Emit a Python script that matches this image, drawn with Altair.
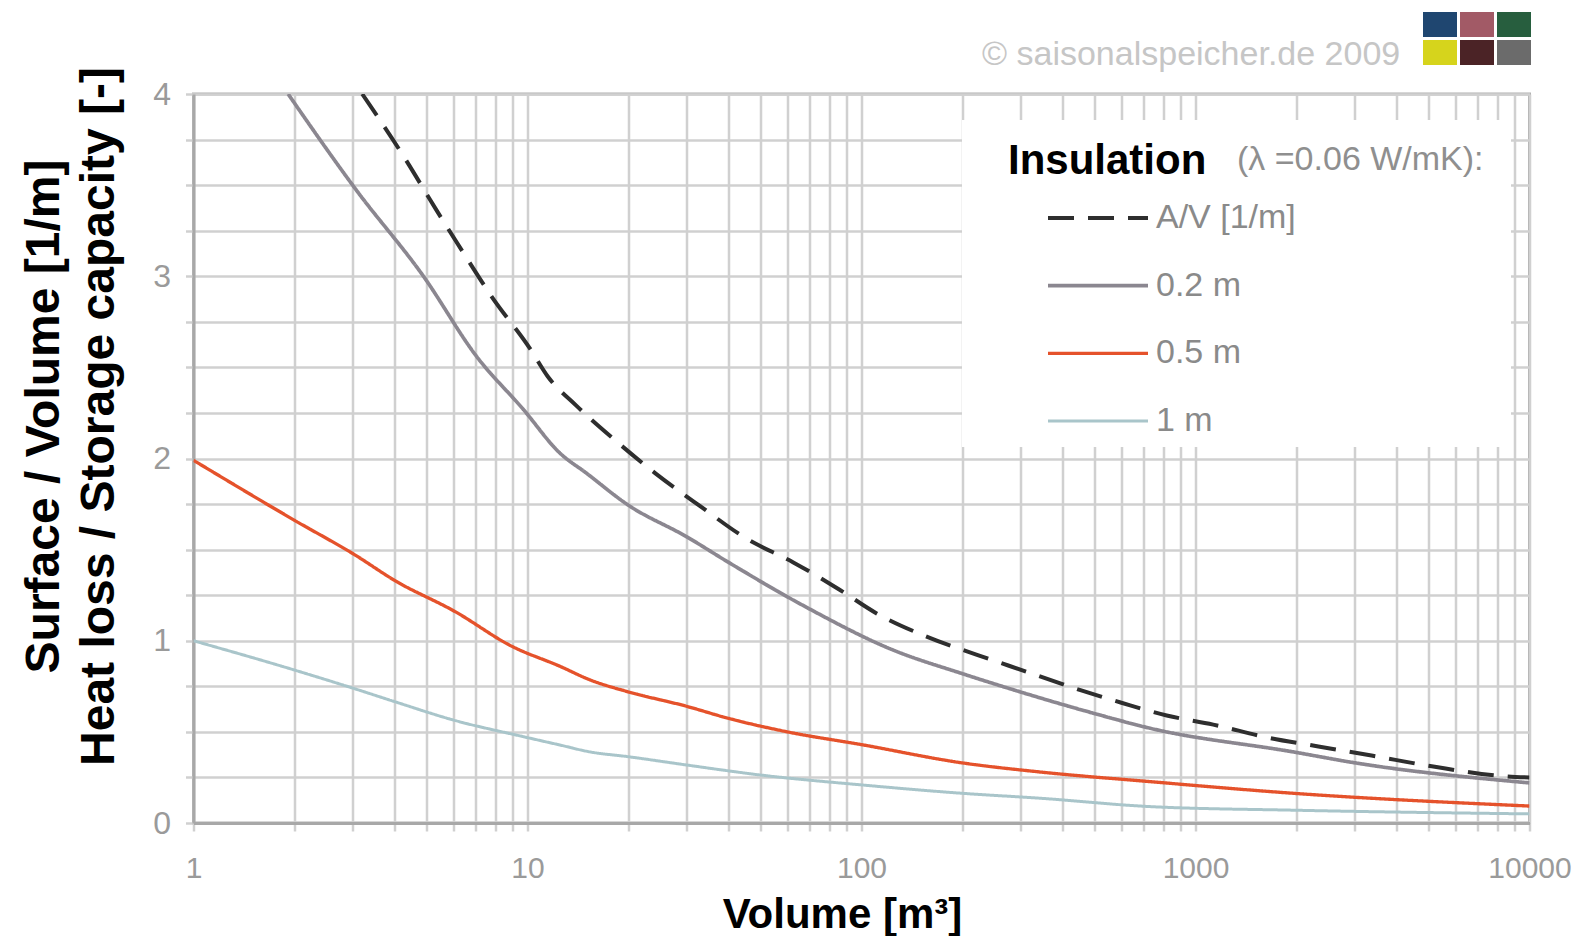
import altair as alt
import pandas as pd

# ---------------- data ----------------
series_names = ["A/V [1/m]", "0.2 m", "0.5 m", "1 m"]
series_colors = ["#2e2e2e", "#8b8790", "#e5522b", "#a9c5ca"]
series_dash = [[26, 14], [1, 0], [1, 0], [1, 0]]
series_width = [4, 3, 4, 3]

av_volume = [3.2, 4.25, 5.35, 6.42, 7.8, 10.2, 11.5, 14.0, 18.3, 24.1, 32.8, 45.3,
             62.5, 86, 111, 158, 224, 312, 450, 600, 820, 1130, 1634, 2333, 3365,
             5150, 7980, 10000]
av_value = [4.0, 3.66, 3.36, 3.13, 2.89, 2.6, 2.45, 2.29, 2.10, 1.92, 1.74, 1.56,
            1.43, 1.28, 1.15, 1.02, 0.92, 0.83, 0.73, 0.66, 0.59, 0.54, 0.47, 0.42,
            0.37, 0.31, 0.26, 0.25]

ins02_volume = [1.92, 3.08, 4.88, 7.04, 9.71, 12.5, 15.0, 20, 30, 40, 69, 124, 200,
                298, 500, 731, 1963, 3005, 10000]
ins02_value = [4.0, 3.47, 3.0, 2.56, 2.27, 2.03, 1.92, 1.745, 1.57, 1.43, 1.18, 0.95,
               0.82, 0.72, 0.60, 0.52, 0.39, 0.33, 0.22]

ins05_volume = [1, 2.01, 3.05, 4.01, 6.07, 8.97, 12.5, 15.4, 20, 30, 40, 60, 100, 200,
                342, 731, 1963, 10000]
ins05_value = [1.99, 1.66, 1.47, 1.33, 1.16, 0.97, 0.86, 0.785, 0.72, 0.64, 0.574,
               0.50, 0.43, 0.33, 0.28, 0.227, 0.163, 0.093]

ins1_volume = [1, 2, 3, 4, 6, 9.7, 12.5, 15.4, 20, 30, 50, 100, 200, 342, 731, 2000,
               10000]
ins1_value = [1.0, 0.84, 0.74, 0.666, 0.565, 0.474, 0.428, 0.39, 0.364, 0.318, 0.263,
              0.209, 0.163, 0.136, 0.09, 0.07, 0.05]

x_grid_values = [1, 2, 3, 4, 5, 6, 7, 8, 9,
                 10, 20, 30, 40, 50, 60, 70, 80, 90,
                 100, 200, 300, 400, 500, 600, 700, 800, 900,
                 1000, 2000, 3000, 4000, 5000, 6000, 7000, 8000, 9000,
                 10000]
x_label_values = [1, 10, 100, 1000, 10000]
y_grid_values = [0, 0.25, 0.5, 0.75, 1, 1.25, 1.5, 1.75, 2, 2.25, 2.5, 2.75,
                 3, 3.25, 3.5, 3.75, 4]

legend_title = "Insulation"
legend_note = "(λ =0.06 W/mK):"
copyright_text = "© saisonalspeicher.de 2009"
logo_colors = ["#1f4670", "#a25a66", "#275e3e", "#d6d41c", "#4b2326", "#6b6b6b"]

x_title = "Volume [m³]"
y_title = ["Surface / Volume [1/m]", "Heat loss / Storage capacity [-]"]

# ---------------- build table ----------------
rows = []
for name, vols, vals in [(series_names[0], av_volume, av_value),
                         (series_names[1], ins02_volume, ins02_value),
                         (series_names[2], ins05_volume, ins05_value),
                         (series_names[3], ins1_volume, ins1_value)]:
    for v, y in zip(vols, vals):
        rows.append({"series": name, "volume": v, "ratio": y})
df = pd.DataFrame(rows)

FONT = "Liberation Sans"
W, H = 1336, 729

label_expr_x = ("indexof([" + ",".join(str(v) for v in x_label_values) +
                "], datum.value) >= 0 ? format(datum.value, 'd') : ''")

x_enc = alt.X(
    "volume:Q",
    scale=alt.Scale(type="log", domain=[1, 10000], nice=False),
    axis=alt.Axis(
        values=x_grid_values, labelExpr=label_expr_x,
        grid=True, gridColor="#d0d0d0", gridWidth=2.5,
        ticks=True, tickColor="#d0d0d0", tickWidth=2.5, tickSize=8,
        domainColor="#a8a8a8", domainWidth=3,
        labelFont=FONT, labelFontSize=30, labelColor="#9a9a9a",
        labelPadding=22, labelFlush=False, labelOverlap=False,
        title=x_title, titleFont=FONT, titleFontSize=42, titleFontWeight="bold",
        titleColor="black", titleX=648.5, titleY=104, titleAlign="center",
        titleBaseline="alphabetic",
    ),
)
y_enc = alt.Y(
    "ratio:Q",
    scale=alt.Scale(domain=[0, 4], nice=False, zero=True),
    axis=alt.Axis(
        values=y_grid_values,
        labelExpr="datum.value % 1 == 0 ? format(datum.value, 'd') : ''",
        grid=True, gridColor="#d0d0d0", gridWidth=2.5,
        ticks=True, tickColor="#d0d0d0", tickWidth=2.5, tickSize=8,
        domainColor="#a8a8a8", domainWidth=3,
        labelFont=FONT, labelFontSize=32, labelColor="#9a9a9a",
        labelPadding=15, labelOverlap=False, labelFlush=False,
        title=y_title, titleFont=FONT, titleFontSize=48, titleFontWeight="bold",
        titleColor="black", titleX=-135, titleY=322, titleAlign="center",
        titleBaseline="alphabetic", titleAngle=270, titleLineHeight=54.5,
    ),
)

legend = alt.Legend(
    orient="none", legendX=814.5, legendY=46.8, padding=0,
    title=legend_title, titleFont=FONT, titleFontSize=42, titleFontWeight="bold",
    titleColor="black", titlePadding=18.2, titleLimit=600,
    labelFont=FONT, labelFontSize=34, labelColor="#8a8a8a",
    symbolType="M-4,0H4", symbolSize=625, symbolStrokeWidth=3.5,
    symbolOffset=73, labelOffset=41, rowPadding=33.7, labelLimit=400,
)

lines = alt.Chart(df).mark_line(clip=True, interpolate="monotone").encode(
    x=x_enc,
    y=y_enc,
    color=alt.Color("series:N", scale=alt.Scale(domain=series_names, range=series_colors),
                    legend=legend, sort=series_names),
    strokeDash=alt.StrokeDash("series:N", scale=alt.Scale(domain=series_names, range=series_dash),
                              legend=legend, sort=series_names),
    strokeWidth=alt.StrokeWidth("series:N", scale=alt.Scale(domain=series_names, range=series_width),
                                legend=None),
)

one = pd.DataFrame({"k": [0]})

# white legend box (covers the grid, as in the original)
legend_box = alt.Chart(one).mark_rect(color="white").encode(
    x=alt.value(768.5), x2=alt.value(1317.5), y=alt.value(26), y2=alt.value(353)
)

note = alt.Chart(pd.DataFrame({"t": [legend_note]})).mark_text(
    align="left", baseline="alphabetic", font=FONT, fontSize=34, color="#8f8f8f"
).encode(x=alt.value(1043.5), y=alt.value(76), text="t:N")

copyright_mark = alt.Chart(pd.DataFrame({"t": [copyright_text]})).mark_text(
    align="left", baseline="alphabetic", font=FONT, fontSize=34, color="#c6c6c6"
).encode(x=alt.value(788.5), y=alt.value(-29.5), text="t:N")

logo_layers = []
col_x = [1229.5, 1266.5, 1303.5]
row_y = [-82, -54]
for i, c in enumerate(logo_colors):
    cx = col_x[i % 3]
    ry = row_y[i // 3]
    logo_layers.append(
        alt.Chart(one).mark_rect(color=c).encode(
            x=alt.value(cx), x2=alt.value(cx + 34), y=alt.value(ry), y2=alt.value(ry + 25)
        )
    )

chart = alt.layer(legend_box, lines, note, copyright_mark, *logo_layers).properties(
    width=W, height=H,
    autosize=alt.AutoSizeParams(type="none"),
    padding={"left": 185.5, "top": 86, "right": 42, "bottom": 113},
    background="white",
).configure_view(stroke="#b0b0b0", strokeWidth=3)

chart.save("out.html", embed_options={"renderer": "svg", "actions": False})
